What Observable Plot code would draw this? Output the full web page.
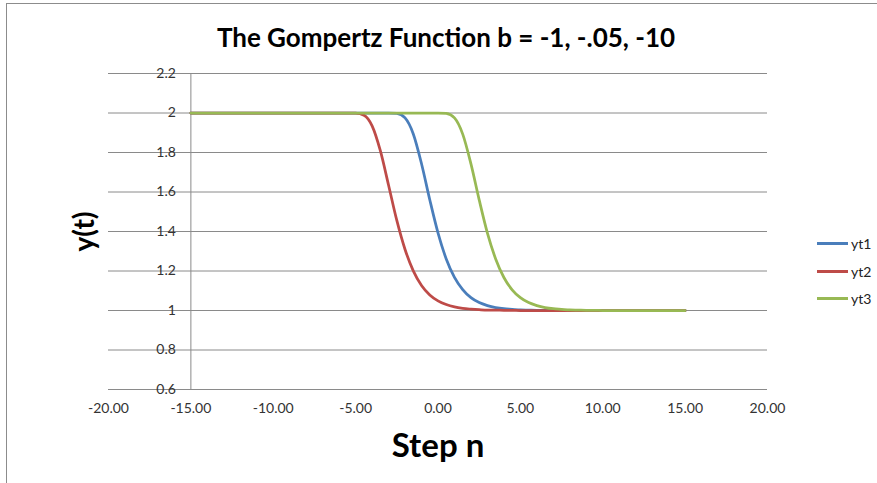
<!DOCTYPE html>
<html>
<head>
<meta charset="utf-8">
<script src="https://cdn.jsdelivr.net/npm/d3@7"></script>
<script src="https://cdn.jsdelivr.net/npm/@observablehq/plot@0.6"></script>
<style>
  html, body { margin: 0; padding: 0; background: #fff; overflow: hidden; }
  #wrap { position: relative; width: 877px; height: 483px; font-family: Lato, "Open Sans", sans-serif; }
  #frame { position: absolute; left: 6px; top: 3px; width: 900px; height: 500px; border: 1px solid #8c8c8c; box-sizing: border-box; pointer-events: none; }
  #legend { position: absolute; left: 817px; top: 230px; font-size: 14px; color: #222; }
  #legend .row { display: flex; align-items: center; height: 27.5px; }
  #legend .sw { width: 31px; height: 3px; margin-right: 3px; }
  svg { position: absolute; left: 0; top: 0; }
</style>
</head>
<body>
<div id="wrap"><div id="frame"></div></div>
<script>
// Step values n shared by the three curves
const steps = [-15, -14.5, -14, -13.5, -13, -12.5, -12, -11.5, -11, -10.5,
  -10, -9.5, -9, -8.5, -8, -7.5, -7, -6.5, -6, -5.5,
  -5, -4.5, -4, -3.5, -3, -2.5, -2, -1.5, -1, -0.5,
  0, 0.5, 1, 1.5, 2, 2.5, 3, 3.5, 4, 4.5,
  5, 5.5, 6, 6.5, 7, 7.5, 8, 8.5, 9, 9.5,
  10, 10.5, 11, 11.5, 12, 12.5, 13, 13.5, 14, 14.5, 15];

// y(t) for each series
const yt1 = [2, 2, 2, 2, 2, 2, 2, 2, 2, 2,
  2, 2, 2, 2, 2, 2, 2, 2, 2, 2,
  2, 2, 2, 2, 2, 1.998, 1.975, 1.894, 1.743, 1.561,
  1.393, 1.261, 1.168, 1.106, 1.065, 1.040, 1.025, 1.015, 1.009, 1.006,
  1.003, 1.002, 1.001, 1.001, 1, 1, 1, 1, 1, 1,
  1, 1, 1, 1, 1, 1, 1, 1, 1, 1, 1];
const yt2 = [2, 2, 2, 2, 2, 2, 2, 2, 2, 2,
  2, 2, 2, 2, 2, 2, 2, 2, 2, 2,
  1.999, 1.989, 1.935, 1.809, 1.634, 1.456, 1.309, 1.201, 1.127, 1.079,
  1.049, 1.030, 1.018, 1.011, 1.007, 1.004, 1.002, 1.002, 1.001, 1.001,
  1, 1, 1, 1, 1, 1, 1, 1, 1, 1,
  1, 1, 1, 1, 1, 1, 1, 1, 1, 1, 1];
const yt3 = [2, 2, 2, 2, 2, 2, 2, 2, 2, 2,
  2, 2, 2, 2, 2, 2, 2, 2, 2, 2,
  2, 2, 2, 2, 2, 2, 2, 2, 2, 2,
  2, 1.998, 1.975, 1.893, 1.742, 1.560, 1.392, 1.261, 1.167, 1.105,
  1.065, 1.040, 1.025, 1.015, 1.009, 1.006, 1.003, 1.002, 1.001, 1.001,
  1, 1, 1, 1, 1, 1, 1, 1, 1, 1, 1];

const seriesNames = ["yt1", "yt2", "yt3"];
const seriesColors = ["#4a7ebb", "#be4b48", "#98b954"];
const xTicks = [-20, -15, -10, -5, 0, 5, 10, 15, 20];
const yTicks = [0.6, 0.8, 1, 1.2, 1.4, 1.6, 1.8, 2, 2.2];
const title = "The Gompertz Function b = -1, -.05, -10";
const xLabel = "Step n";
const yLabel = "y(t)";
const yAxisCross = -15;

const seriesValues = [yt1, yt2, yt3];
const rows = [];
seriesNames.forEach((name, k) => {
  steps.forEach((n, i) => rows.push({series: name, n, y: seriesValues[k][i]}));
});

const chart = Plot.plot({
  width: 877,
  height: 483,
  marginLeft: 108,
  marginRight: 110,
  marginTop: 73,
  marginBottom: 94,
  style: {fontFamily: "Lato, 'Open Sans', sans-serif", fontSize: "14px", color: "#333", background: "transparent"},
  x: {domain: [-20, 20]},
  y: {domain: [0.6, 2.2], axis: null},
  color: {domain: seriesNames, range: seriesColors},
  marks: [
    Plot.gridY(yTicks, {stroke: "#8a8a8a", strokeOpacity: 1, strokeWidth: 1}),
    Plot.ruleX([yAxisCross], {stroke: "#8a8a8a", strokeWidth: 1}),
    Plot.axisX(xTicks, {tickSize: 0, tickPadding: 14, tickFormat: d => d.toFixed(2), label: null, fill: "#333"}),
    Plot.text(yTicks, {x: () => yAxisCross, y: d => d, text: d => String(d), textAnchor: "end", dx: -15, fill: "#333"}),
    Plot.line(rows, {x: "n", y: "y", z: "series", stroke: "series", strokeWidth: 2.75, curve: "monotone-x"}),
    Plot.text([title], {frameAnchor: "top", lineAnchor: "middle", dx: 8, dy: -35, fontSize: 26, fontWeight: "bold", fill: "#000"}),
    Plot.text([xLabel], {frameAnchor: "bottom", lineAnchor: "middle", dy: 57, fontSize: 33, fontWeight: "bold", fill: "#000"}),
    Plot.text([yLabel], {frameAnchor: "left", textAnchor: "middle", lineAnchor: "middle", dx: -23, rotate: -90, fontSize: 28, fontWeight: "bold", fill: "#000"})
  ]
});

const wrap = document.getElementById("wrap");
wrap.insertBefore(chart, wrap.firstChild);

// legend on the right
const legend = document.createElement("div");
legend.id = "legend";
seriesNames.forEach((name, k) => {
  const row = document.createElement("div");
  row.className = "row";
  const sw = document.createElement("div");
  sw.className = "sw";
  sw.style.background = seriesColors[k];
  const label = document.createElement("span");
  label.textContent = name;
  row.appendChild(sw);
  row.appendChild(label);
  legend.appendChild(row);
});
wrap.appendChild(legend);
</script>
</body>
</html>
